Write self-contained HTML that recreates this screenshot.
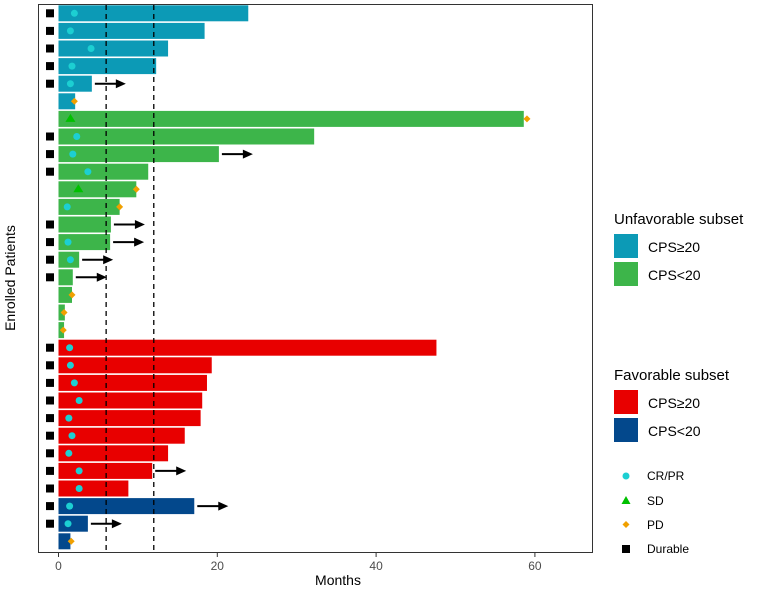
<!DOCTYPE html>
<html><head><meta charset="utf-8"><style>
body{margin:0;background:#fff;font-family:"Liberation Sans",Arial,sans-serif}
svg text{font-family:"Liberation Sans",Arial,sans-serif}
</style></head><body>
<svg id="c" width="758" height="590" xmlns="http://www.w3.org/2000/svg">
<g id="plot"></g>
<line x1="38" y1="4.5" x2="593" y2="4.5" stroke="#333" stroke-width="1"/>
<line x1="592.5" y1="4" x2="592.5" y2="553" stroke="#333" stroke-width="1"/>
<line x1="38.5" y1="4" x2="38.5" y2="553" stroke="#333" stroke-width="1"/>
<line x1="38" y1="552.5" x2="593" y2="552.5" stroke="#333" stroke-width="1"/>
<g id="xt"></g>
<text x="338" y="585" font-size="14" text-anchor="middle" fill="#000">Months</text>
<text transform="translate(15,278) rotate(-90)" font-size="14" text-anchor="middle" fill="#000">Enrolled Patients</text>
<g>
<text x="614" y="224" font-size="15">Unfavorable subset</text>
<rect x="614" y="234" width="24" height="24" fill="#0c9ab6"/>
<text x="648" y="252" font-size="14">CPS≥20</text>
<rect x="614" y="262" width="24" height="24" fill="#3db54a"/>
<text x="648" y="280" font-size="14">CPS&lt;20</text>
<text x="614" y="380" font-size="15">Favorable subset</text>
<rect x="614" y="390" width="24" height="24" fill="#e80000"/>
<text x="648" y="408" font-size="14">CPS≥20</text>
<rect x="614" y="418" width="24" height="24" fill="#03488c"/>
<text x="648" y="436" font-size="14">CPS&lt;20</text>
<circle cx="626" cy="476" r="3.5" fill="#1ccfd2"/>
<text x="647" y="480" font-size="12">CR/PR</text>
<polygon points="626,496 630.5,504 621.5,504" fill="#00c000"/>
<text x="647" y="505" font-size="12">SD</text>
<polygon points="626,521 629.5,524.5 626,528 622.5,524.5" fill="#f0a000"/>
<text x="647" y="529" font-size="12">PD</text>
<rect x="622" y="545" width="8" height="8" fill="#000"/>
<text x="647" y="553" font-size="12">Durable</text>
</g>
</svg>
<script>
const durations=[23.9,18.4,13.8,12.3,4.2,2.1,58.6,32.2,20.2,11.3,9.8,7.7,6.6,6.5,2.6,1.8,1.7,0.8,0.7,47.6,19.3,18.7,18.1,17.9,15.9,13.8,11.8,8.8,17.1,3.7,1.5];
const groups=["uh","uh","uh","uh","uh","uh","ul","ul","ul","ul","ul","ul","ul","ul","ul","ul","ul","ul","ul","fh","fh","fh","fh","fh","fh","fh","fh","fh","fl","fl","fl"];
const crpr=[2.0,1.5,4.1,1.7,1.5,null,null,2.3,1.8,3.7,null,1.1,null,1.2,1.5,null,null,null,null,1.4,1.5,2.0,2.6,1.3,1.7,1.3,2.6,2.6,1.4,1.2,null];
const sd=[null,null,null,null,null,null,1.5,null,null,null,2.5,null,null,null,null,null,null,null,null,null,null,null,null,null,null,null,null,null,null,null,null];
const pd=[null,null,null,null,null,2.0,59.0,null,null,null,9.8,7.7,null,null,null,null,1.7,0.7,0.6,null,null,null,null,null,null,null,null,null,null,null,1.6];
const ongoing=[0,0,0,0,1,0,0,0,1,0,0,0,1,1,1,1,0,0,0,0,0,0,0,0,0,0,1,0,1,1,0];
const durable=[1,1,1,1,1,0,0,1,1,1,0,0,1,1,1,1,0,0,0,1,1,1,1,1,1,1,1,1,1,1,0];
const xTicks=[0,20,40,60];
const refLines=[6,12];
const colors={uh:"#0c9ab6",ul:"#3db54a",fh:"#e80000",fl:"#03488c"};
const NS="http://www.w3.org/2000/svg";
const X=v=>58.5+v*7.94;
const Y=i=>13.3+i*17.6;
const plot=document.getElementById('plot');
function mk(tag,attrs,parent){const e=document.createElementNS(NS,tag);for(const k in attrs)e.setAttribute(k,attrs[k]);(parent||plot).appendChild(e);return e;}
durations.forEach((d,i)=>{
 const r=mk('rect',{x:X(0),y:Y(i)-8,width:X(d)-X(0),height:16,fill:colors[groups[i]]});
 
 
});
refLines.forEach(v=>{
 const l=mk('line',{x1:X(v),x2:X(v),y1:5,y2:552,stroke:'#000','stroke-width':1.3,'stroke-dasharray':'5,4'});
 
 
});
durations.forEach((d,i)=>{
 const y=Y(i);
 if(durable[i]){const s=mk('rect',{x:46,y:y-4,width:8,height:8,fill:'#000'});
  
  }
 if(crpr[i]!=null){const c=mk('circle',{cx:X(crpr[i]),cy:y,r:3.5,fill:'#1ccfd2'});
  
  }
 if(sd[i]!=null){const x=X(sd[i]);const t=mk('polygon',{points:`${x},${y-5} ${x+5},${y+3} ${x-5},${y+3}`,fill:'#00c000'});
  
  }
 if(pd[i]!=null){const x=X(pd[i]);const p=mk('polygon',{points:`${x},${y-3.5} ${x+3.5},${y} ${x},${y+3.5} ${x-3.5},${y}`,fill:'#f0a000'});
  
  }
 if(ongoing[i]){const x1=X(d)+3,x2=x1+22;
  const g=mk('g',{});
  
  
  mk('line',{x1:x1,x2:x2,y1:y,y2:y,stroke:'#000','stroke-width':2},g);
  mk('polygon',{points:`${x2-1},${y-4.5} ${x2+9},${y} ${x2-1},${y+4.5}`,fill:'#000'},g);}
});
const xt=document.getElementById('xt');
xTicks.forEach(v=>{
 const l=mk('line',{x1:X(v),x2:X(v),y1:553,y2:557,stroke:'#333'},xt);
 
 
 const t=mk('text',{x:X(v),y:570,'font-size':12,'text-anchor':'middle',fill:'#4d4d4d'},xt);
 t.textContent=v;
 
 
});
</script>
</body></html>
